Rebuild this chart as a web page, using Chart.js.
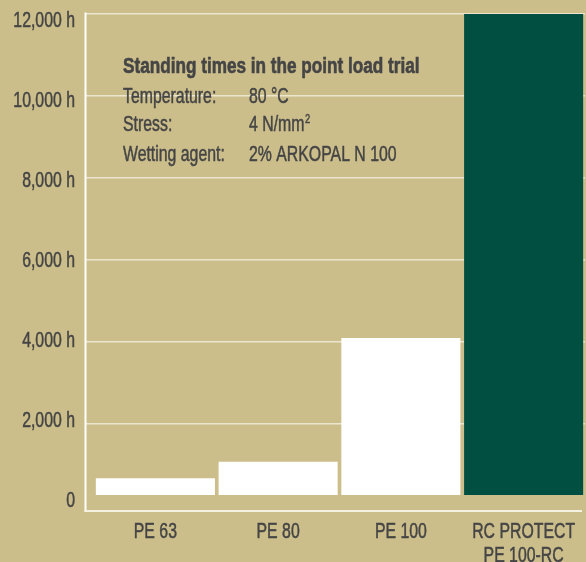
<!DOCTYPE html>
<html>
<head>
<meta charset="utf-8">
<script src="https://cdn.jsdelivr.net/npm/chart.js@4"></script>
<style>
html,body{margin:0;padding:0;background:#ccbe8b;}
#wrap{width:586px;height:562px;}
</style>
</head>
<body>
<div id="wrap"><canvas id="c" width="586" height="562"></canvas></div>
<script>
// data
const categories=['PE 63','PE 80','PE 100',['RC PROTECT','PE 100-RC']];
const hours=[670,1070,4090,12000];
const barColors=['#ffffff','#ffffff','#ffffff','#004f41'];
const yTicks=[0,2000,4000,6000,8000,10000,12000];
const noteTitle='Standing times in the point load trial';
const noteLabels=['Temperature:','Stress:','Wetting agent:'];
const noteValues=['80 °C','4 N/mm','2% ARKOPAL N 100'];
const noteSup=['','2',''];

// no condensed face installed, so squeeze a plain sans sideways
const FONT="'Liberation Sans',Arial,sans-serif";
const INK='#454545', BG='#ccbe8b', GRID='#ece6cf';
const SQ=0.72, SQB=0.78;

function txt(c,s,x,y,o){
  o=o||{};
  c.save();
  c.font=(o.bold?'bold ':'')+(o.size||22)+'px '+FONT;
  c.textAlign=o.align||'left';c.textBaseline=o.base||'alphabetic';
  c.translate(x,y);c.scale(o.bold?SQB:SQ,1);
  c.fillText(s,0,0);
  c.strokeStyle=c.fillStyle;c.lineWidth=o.bold?0.6:0.5;c.strokeText(s,0,0); // a bit more weight
  const w=c.measureText(s).width*(o.bold?SQB:SQ);
  c.restore();
  return w;
}
const yLabel=v=>v===0?'0':v.toLocaleString('en-US')+' h';

const frame={id:'frame',
  beforeDraw(ch){const c=ch.ctx;c.save();c.fillStyle=BG;c.fillRect(0,0,ch.width,ch.height);c.restore();},
  afterDraw(ch){
    const c=ch.ctx,a=ch.chartArea,xs=ch.scales.x,ys=ch.scales.y;
    c.save();
    // axis lines
    c.lineWidth=2;c.strokeStyle='#ffffff';
    c.beginPath();c.moveTo(a.left-8.5,a.top-1.5);c.lineTo(a.left-8.5,a.bottom+2);c.stroke();
    c.strokeStyle='#f4f0e2';
    c.beginPath();c.moveTo(a.left-9.5,a.bottom+1);c.lineTo(a.right-3,a.bottom+1);c.stroke();
    c.fillStyle=INK;
    // y tick labels (label column runs a touch tighter than the grid)
    const z=ys.getPixelForValue(0);
    yTicks.forEach(v=>{
      const p=ys.getPixelForValue(v);
      txt(c,yLabel(v),a.left-19,z+(p-z)*0.976-4.5,{align:'right',base:'middle'});
    });
    // x tick labels
    categories.forEach((lab,i)=>{
      const x=xs.getPixelForValue(i);
      [].concat(lab).forEach((s,k)=>txt(c,s,x,538+k*24,{align:'center'}));
    });
    // note block
    txt(c,noteTitle,123,72.5,{bold:true});
    const base=[102.7,131.2,160.6];
    noteLabels.forEach((t,i)=>{
      txt(c,t,123,base[i]);
      const w=txt(c,noteValues[i],249,base[i]);
      if(noteSup[i]) txt(c,noteSup[i],249+w+0.5,base[i]-8,{size:13});
    });
    c.restore();
  }};

new Chart(document.getElementById('c'),{
  type:'bar',
  data:{labels:categories,datasets:[{data:hours,backgroundColor:barColors,borderWidth:0,base:261,
    categoryPercentage:1,barPercentage:0.97}]},
  options:{
    responsive:false,animation:false,
    layout:{padding:{top:14,right:1,left:0,bottom:0}},
    plugins:{legend:{display:false},tooltip:{enabled:false}},
    scales:{
      x:{grid:{display:false,drawTicks:false},border:{display:false},
        ticks:{display:false},
        afterFit(s){s.height=52;}},
      y:{min:-105,max:12000,
        afterBuildTicks(s){s.ticks=yTicks.map(v=>({value:v}));},
        afterFit(s){s.width=94;},
        grid:{color:ctx=>ctx.tick&&ctx.tick.value===0?'rgba(0,0,0,0)':GRID,lineWidth:1.5,drawTicks:true,tickLength:8},
        border:{display:false},
        ticks:{display:false}}
    }
  },
  plugins:[frame]
});
</script>
</body>
</html>
